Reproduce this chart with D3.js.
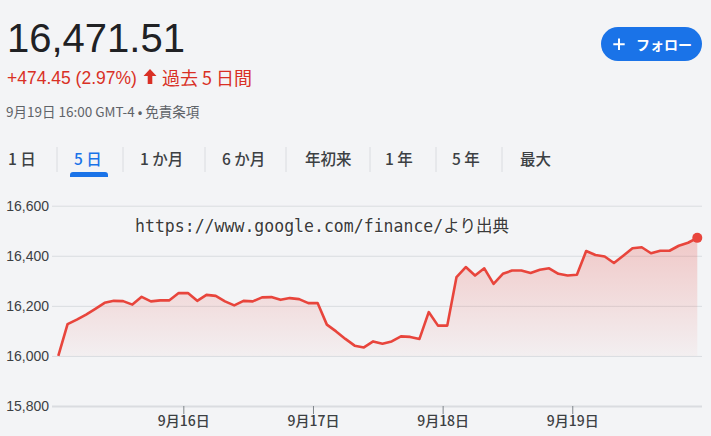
<!DOCTYPE html>
<html><head><meta charset="utf-8">
<script src="https://cdn.jsdelivr.net/npm/d3@7"></script>
<style>
html,body{margin:0;padding:0;background:#f3f4f6;}
svg{display:block;font-family:Roboto,"Noto Sans CJK JP",Arial,sans-serif;}
</style></head><body>
<svg id="c" width="711" height="436"></svg>
<script>
// ---- data ----
const values = [16000,16127,16145,16165,16188,16212,16220,16219,16205,16236,16218,16222,16222,16251,
16251,16220,16244,16240,16218,16202,16220,16218,16234,16235,16224,16231,16227,16211,
16211,16125,16098,16068,16041,16034,16058,16049,16058,16078,16076,16068,16175,16121,
16121,16315,16355,16321,16350,16288,16328,16341,16341,16331,16344,16350,16328,16321,
16324,16419,16403,16397,16371,16400,16430,16434,16410,16420,16420,16440,16452,16471.51];
const dayTickPos = [13.5, 27.5, 41.5, 55.5];
const dayLabels = ["9月16日","9月17日","9月18日","9月19日"];
const yTicks = [15800,16000,16200,16400,16600];
const tabs = ["1 日","5 日","1 か月","6 か月","年初来","1 年","5 年","最大"];
const tabX = [8, 74, 140, 222, 305, 385, 452, 520];
const sepX = [57, 123, 205, 286, 370, 436, 502];
const selectedTab = 1;
const price = "16,471.51";
const change = "+474.45 (2.97%)";
const period = "過去 5 日間";
const stamp = "9月19日 16:00 GMT-4 • 免責条項";
const watermark = "https://www.google.com/finance/より出典";

const svg = d3.select("#c");
const red = "#e8453c";

// ---- header ----
svg.append("text").attr("x",7).attr("y",52).attr("font-size",40).attr("fill","#202124")
  .attr("font-family","Arial, Liberation Sans, sans-serif").text(price);
svg.append("text").attr("x",7).attr("y",84).attr("font-size",17.5).attr("fill","#d93025")
  .attr("font-family","Arial, Liberation Sans, sans-serif").text(change);
// up arrow
svg.append("path").attr("d","M150,69 L156.5,76 L152.3,76 L152.3,84 L147.7,84 L147.7,76 L143.5,76 Z").attr("fill","#d93025");
svg.append("text").attr("x",162).attr("y",84.5).attr("font-size",18).attr("fill","#d93025")
  .attr("font-family","'Noto Sans CJK JP', sans-serif").text(period);
svg.append("text").attr("x",6).attr("y",117).attr("font-size",13.5).attr("fill","#5f6368")
  .attr("font-family","'Noto Sans CJK JP', sans-serif").text(stamp);

// follow button
svg.append("rect").attr("x",601).attr("y",27).attr("width",101).attr("height",34).attr("rx",17).attr("fill","#1a73e8");
svg.append("path").attr("d","M619,38.5 V50 M613.3,44.3 H624.7").attr("stroke","#fff").attr("stroke-width",2);
svg.append("text").attr("x",636).attr("y",49.5).attr("font-size",14).attr("font-weight",700).attr("fill","#fff")
  .attr("font-family","'Noto Sans CJK JP', sans-serif").text("フォロー");

// tabs
const tg = svg.append("g").attr("font-family","'Noto Sans CJK JP', sans-serif");
tabs.forEach((t,i)=>{
  tg.append("text").attr("x",tabX[i]).attr("y",164.5).attr("font-size",15.5).attr("font-weight",500)
    .attr("fill", i===selectedTab ? "#1a73e8" : "#3c4043").text(t);
});
sepX.forEach(x=>{
  tg.append("line").attr("x1",x).attr("x2",x).attr("y1",147).attr("y2",172).attr("stroke","#dadce0");
});
tg.append("path").attr("d","M70,177 V175 Q70,172 73,172 H105 Q108,172 108,175 V177 Z").attr("fill","#1a73e8");

// ---- chart ----
const x = d3.scaleLinear().domain([0, values.length-1]).range([58.3, 697.3]);
const y = d3.scaleLinear().domain([15800, 16600]).range([406, 205.7]);
const gx0 = 52, gx1 = 702;

const yAxis = svg.append("g").attr("transform",`translate(${gx0},0)`)
  .call(d3.axisLeft(y).tickValues(yTicks).tickFormat(d3.format(",")).tickSize(-(gx1-gx0)).tickPadding(3));
yAxis.select(".domain").remove();
yAxis.selectAll(".tick line").attr("stroke","#dadce0").attr("stroke-width",d=>d===15800?2:1);
yAxis.selectAll(".tick text").attr("font-size",14).attr("fill","#3c4043")
  .attr("font-family","Arial, Liberation Sans, sans-serif");

const xAxis = svg.append("g").attr("transform",`translate(0,${y(15800)})`)
  .call(d3.axisBottom(x).tickValues(dayTickPos).tickFormat((d,i)=>dayLabels[i]).tickSize(8).tickPadding(2));
xAxis.select(".domain").remove();
xAxis.selectAll(".tick line").attr("stroke","#80868b");
xAxis.selectAll(".tick text").attr("font-size",14).attr("fill","#3c4043").attr("font-weight",500)
  .attr("font-family","'Noto Sans CJK JP', sans-serif");

// gradient area
const defs = svg.append("defs");
const grad = defs.append("linearGradient").attr("id","g1").attr("gradientUnits","userSpaceOnUse")
  .attr("x1",0).attr("x2",0).attr("y1",y(16471)).attr("y2",y(16000));
grad.append("stop").attr("offset",0).attr("stop-color",red).attr("stop-opacity",0.25);
grad.append("stop").attr("offset",1).attr("stop-color",red).attr("stop-opacity",0.03);

const minV = d3.min(values);
svg.append("path").datum(values)
  .attr("d", d3.area().x((d,i)=>x(i)).y0(y(minV)).y1(d=>y(d)))
  .attr("fill","url(#g1)");
svg.append("path").datum(values)
  .attr("d", d3.line().x((d,i)=>x(i)).y(d=>y(d)))
  .attr("fill","none").attr("stroke",red).attr("stroke-width",2.6).attr("stroke-linejoin","round");
svg.append("circle").attr("cx",x(values.length-1)).attr("cy",y(values[values.length-1])).attr("r",5).attr("fill",red);

// watermark
const wm = svg.append("g").attr("font-family","'DejaVu Sans Mono','Noto Sans CJK JP',monospace").attr("font-size",17);
wm.append("text").attr("x",136).attr("y",233).attr("fill","#ffffff").attr("textLength",374).attr("lengthAdjust","spacingAndGlyphs").text(watermark);
wm.append("text").attr("x",135).attr("y",232).attr("fill","#3a3a3a").attr("textLength",374).attr("lengthAdjust","spacingAndGlyphs").text(watermark);
</script>
</body></html>
